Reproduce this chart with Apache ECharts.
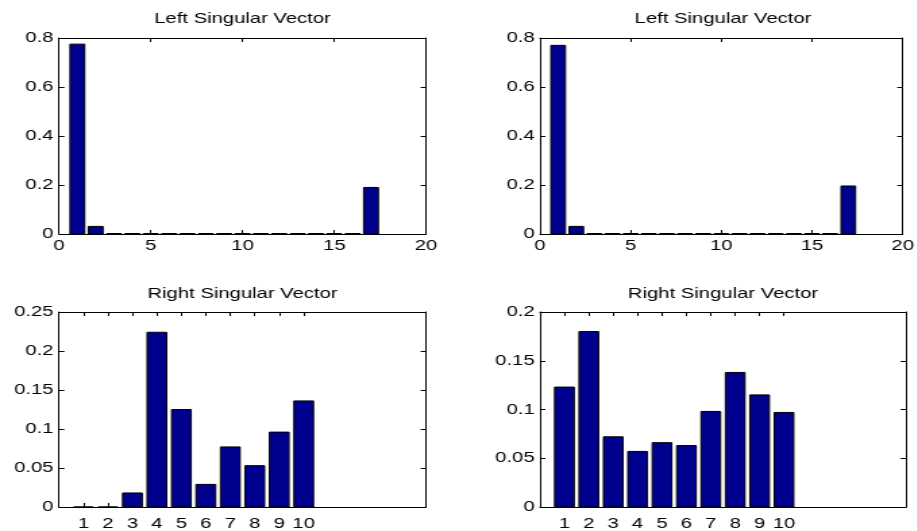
<!DOCTYPE html>
<html>
<head>
<meta charset="utf-8">
<script src="https://cdn.jsdelivr.net/npm/echarts@6/dist/echarts.min.js"></script>
<style>
  html, body { margin: 0; padding: 0; background: #fff; overflow: hidden; }
  #chart { width: 680px; height: 531px; transform: scaleX(1.35); transform-origin: 0 0; }
</style>
</head>
<body>
<div id="chart"></div>
<script>
// ---- data ----
var titles = ['Left Singular Vector', 'Left Singular Vector', 'Right Singular Vector', 'Right Singular Vector'];
var leftIdx = [1,2,3,4,5,6,7,8,9,10,11,12,13,14,15,16,17];
var leftVals1 = [0.775,0.031,0.002,0.002,0.002,0.002,0.002,0.002,0.002,0.002,0.002,0.002,0.002,0.002,0.002,0.002,0.190];
var leftVals2 = [0.770,0.031,0.002,0.002,0.002,0.002,0.002,0.002,0.002,0.002,0.002,0.002,0.002,0.002,0.002,0.002,0.196];
var rightIdx = [1,2,3,4,5,6,7,8,9,10];
var rightVals1 = [0,0,0.018,0.224,0.125,0.029,0.077,0.053,0.096,0.136];
var rightVals2 = [0.123,0.180,0.072,0.057,0.066,0.063,0.098,0.138,0.115,0.097];
var leftXTicks = [0,5,10,15,20];
var rightXTicks = [1,2,3,4,5,6,7,8,9,10];
var yMax = [0.8, 0.8, 0.25, 0.2];
var yStep = [0.2, 0.2, 0.05, 0.05];

// ---- layout ----
var FONT = 'Liberation Sans';
var FS = 15;
var grids = [
  { left: 43.7, top: 38, width: 271.9, height: 196 },
  { left: 400, top: 38, width: 271.1, height: 196 },
  { left: 43.7, top: 312, width: 271.9, height: 197 },
  { left: 400, top: 312, width: 271.1, height: 197 }
];
var BAR_COLOR = '#00008F';

function barRender(params, api) {
  var x = api.value(0), y = api.value(1);
  var p0 = api.coord([x - 0.4, y]);
  var p1 = api.coord([x + 0.4, 0]);
  return {
    type: 'rect',
    shape: { x: p0[0], y: p0[1], width: p1[0] - p0[0], height: p1[1] - p0[1] },
    style: { fill: BAR_COLOR, stroke: '#000', lineWidth: 1 }
  };
}
function pairs(xs, ys) { return xs.map(function (x, i) { return [x, ys[i]]; }); }
function yFmt(v) { return String(parseFloat(v.toFixed(3))); }

var lineStyle = { color: '#000', width: 1 };
var xAxes = [], yAxes = [], series = [], titleOpts = [];

grids.forEach(function (g, i) {
  var isLeft = i < 2;
  var xBase = {
    type: 'value', gridIndex: i, min: 0, max: isLeft ? 20 : 15,
    splitLine: { show: false },
    axisLine: { show: true, onZero: false, lineStyle: lineStyle }
  };
  var tickOpt = isLeft
    ? { show: true, inside: true, length: 4, lineStyle: lineStyle }
    : { show: true, inside: true, length: 4, lineStyle: lineStyle, customValues: rightXTicks };
  xAxes.push(Object.assign({}, xBase, {
    position: 'bottom', interval: isLeft ? 5 : 1,
    axisTick: tickOpt,
    axisLabel: isLeft
      ? { show: true, color: '#000', fontFamily: FONT, fontSize: FS, margin: 4, showMinLabel: true, showMaxLabel: true }
      : { show: true, color: '#000', fontFamily: FONT, fontSize: FS, margin: 9, customValues: rightXTicks }
  }));
  xAxes.push(Object.assign({}, xBase, {
    position: 'top', interval: isLeft ? 5 : 1,
    axisTick: tickOpt,
    axisLabel: { show: false }
  }));
  var yBase = {
    type: 'value', gridIndex: i, min: 0, max: yMax[i], interval: yStep[i],
    splitLine: { show: false },
    axisLine: { show: true, onZero: false, lineStyle: lineStyle },
    axisTick: { show: true, inside: true, length: 4, lineStyle: lineStyle }
  };
  yAxes.push(Object.assign({}, yBase, {
    position: 'left',
    axisLabel: { show: true, color: '#000', fontFamily: FONT, fontSize: FS, margin: 4, formatter: yFmt, showMinLabel: true, showMaxLabel: true }
  }));
  yAxes.push(Object.assign({}, yBase, {
    position: 'right',
    axisLabel: { show: false }
  }));
  var xs = isLeft ? leftIdx : rightIdx;
  var ys = [leftVals1, leftVals2, rightVals1, rightVals2][i];
  series.push({
    type: 'custom', xAxisIndex: 2 * i, yAxisIndex: 2 * i,
    renderItem: barRender, encode: { x: 0, y: 1 },
    data: pairs(xs, ys), z: 3, silent: true
  });
  titleOpts.push({
    text: titles[i], left: g.left + g.width / 2, top: isLeft ? 11.5 : 286.5, textAlign: 'center', padding: 0,
    textStyle: { fontFamily: FONT, fontSize: FS, fontWeight: 'normal', color: '#000' }
  });
});

var chart = echarts.init(document.getElementById('chart'), null, { renderer: 'canvas' });
chart.setOption({
  animation: false,
  backgroundColor: '#fff',
  title: titleOpts,
  grid: grids,
  xAxis: xAxes,
  yAxis: yAxes,
  series: series
});
</script>
</body>
</html>
